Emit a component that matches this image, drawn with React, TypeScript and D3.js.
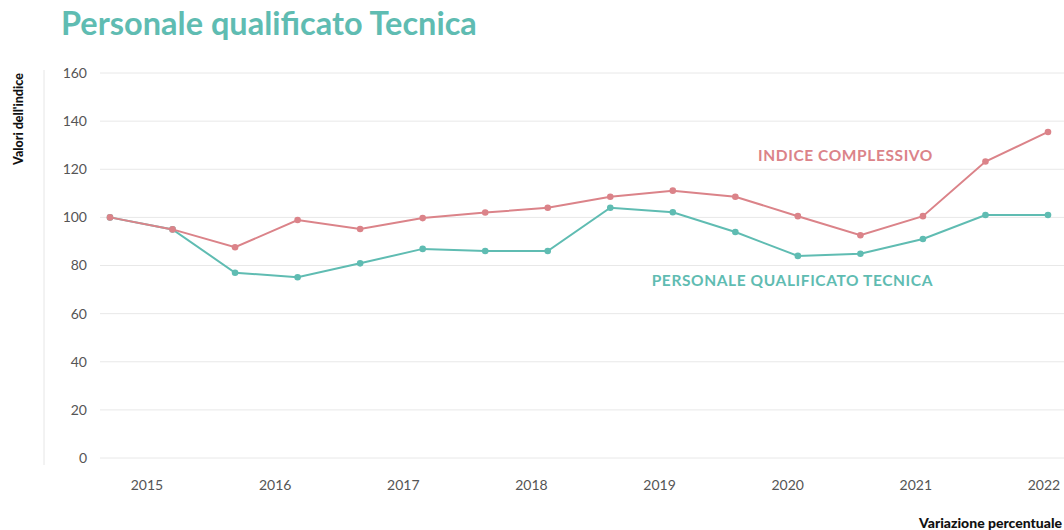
import React from "react";
import * as d3 from "d3";

// semestral points, 16 per series
const periods = d3.range(16);
const indiceComplessivo = [100, 95, 87.6, 98.9, 95.2, 99.7, 102, 104, 108.6, 111.1, 108.6, 100.5, 92.6, 100.5, 123.2, 135.5];
const personaleTecnica = [100, 95, 77, 75.1, 80.9, 86.9, 86, 86, 104, 102.1, 93.9, 84, 84.9, 91, 101, 101];
const yearLabels = ["2015", "2016", "2017", "2018", "2019", "2020", "2021", "2022"];
const yTicks = [0, 20, 40, 60, 80, 100, 120, 140, 160];

const TEAL = "#5fbcb2";
const RED = "#db8389";
const FONT = "Lato, 'Open Sans', sans-serif";

const W = 1064;
const H = 530;

export default function App() {
  const x = d3.scaleLinear().domain([0, 15]).range([110, 1048]);
  const y = d3.scaleLinear().domain([0, 160]).range([458, 73]);
  const xYear = d3.scalePoint<string>().domain(yearLabels).range([147, 1044]);

  const line = d3.line<number>()
    .x((_, i) => x(periods[i]))
    .y(d => y(d));

  const series = [
    { name: "INDICE COMPLESSIVO", values: indiceComplessivo, color: RED },
    { name: "PERSONALE QUALIFICATO TECNICA", values: personaleTecnica, color: TEAL },
  ];

  return (
    <svg
      width={W}
      height={H}
      style={{ position: "absolute", left: 0, top: 0, background: "#fff" }}
      fontFamily={FONT}
    >
      {/* title */}
      <text x={61} y={35} fill={TEAL} fontSize={32.5} fontWeight={700}>
        Personale qualificato Tecnica
      </text>

      {/* y axis label */}
      <text
        transform={`translate(23, 119) rotate(-90)`}
        textAnchor="middle"
        fontSize={12.5}
        fontWeight={900}
        fill="#111"
      >
        Valori dell'indice
      </text>
      <line x1={44} x2={44} y1={70} y2={465} stroke="#e6e6e6" strokeWidth={1} />

      {/* grid + ticks */}
      {yTicks.map(t => (
        <g key={t}>
          <line x1={100} x2={W} y1={y(t)} y2={y(t)} stroke="#e8e8e8" strokeWidth={1} />
          <text x={87} y={y(t)} dy="0.35em" textAnchor="end" fontSize={14} fill="#555">
            {t}
          </text>
        </g>
      ))}

      {/* x labels */}
      {yearLabels.map(l => (
        <text key={l} x={xYear(l)} y={490} textAnchor="middle" fontSize={14} fill="#555">
          {l}
        </text>
      ))}

      {/* lines */}
      {series.slice().reverse().map(s => (
        <g key={s.name}>
          <path d={line(s.values) || ""} fill="none" stroke={s.color} strokeWidth={2} />
          {s.values.map((v, i) => (
            <circle key={i} cx={x(periods[i])} cy={y(v)} r={3.3} fill={s.color} />
          ))}
        </g>
      ))}

      {/* series labels */}
      <text x={933} y={161} textAnchor="end" fontSize={15.5} fontWeight={700} fill={RED} letterSpacing={0.6}>
        {series[0].name}
      </text>
      <text x={933} y={286} textAnchor="end" fontSize={15.5} fontWeight={700} fill={TEAL} letterSpacing={0.6}>
        {series[1].name}
      </text>

      {/* footer */}
      <text x={919} y={528} fontSize={14} fontWeight={900} fill="#111">
        Variazione percentuale
      </text>
    </svg>
  );
}
